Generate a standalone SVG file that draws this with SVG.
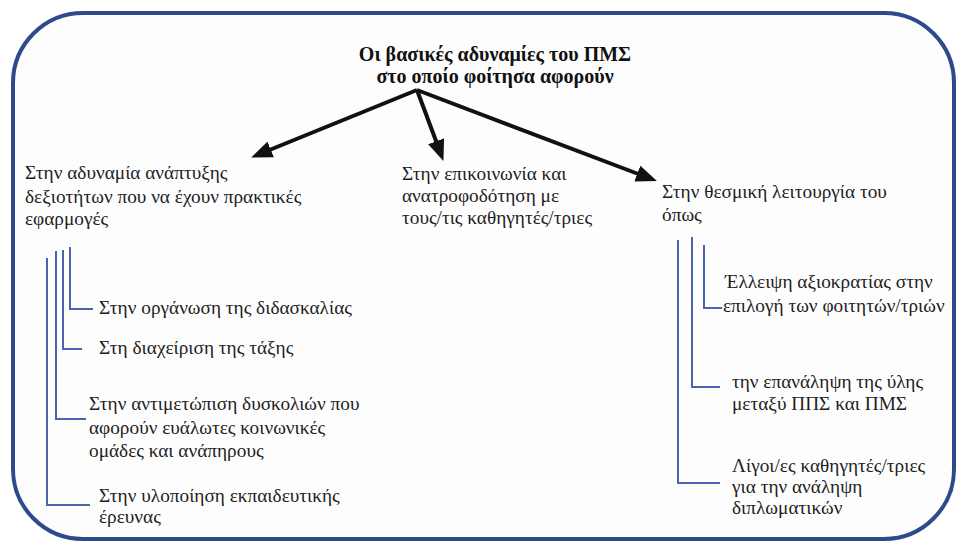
<svg xmlns="http://www.w3.org/2000/svg" width="958" height="543" viewBox="0 0 958 543">
<defs>
<style>
.t{font-family:'Liberation Serif','Times New Roman','DejaVu Serif',serif;font-size:19.3px;fill:#1e1e1e}
.h{font-family:'Liberation Serif','Times New Roman','DejaVu Serif',serif;font-size:20px;font-weight:bold;fill:#111}
.arr{stroke:#111;stroke-width:4;fill:none}
.br{stroke:#4a64b2;stroke-width:2;fill:none}
</style>
<marker id="ah" markerUnits="userSpaceOnUse" markerWidth="21" markerHeight="17" refX="4" refY="8.5" orient="auto" viewBox="0 0 21 17">
<path d="M0,0 L21,8.5 L0,17 z" fill="#111"/>
</marker>
</defs>
<rect width="958" height="543" fill="#ffffff"/>
<rect id="frame" x="13" y="13" width="941" height="526" rx="70" ry="70" fill="#fdfdfd" stroke="#2c4a8c" stroke-width="4"/>

<g id="title">
<text class="h" x="495" y="61" text-anchor="middle">Οι βασικές αδυναμίες του ΠΜΣ</text>
<text class="h" x="495" y="83" text-anchor="middle">στο οποίο φοίτησα αφορούν</text>
</g>

<g id="connectors">
<line class="arr" x1="417" y1="90" x2="267" y2="151" marker-end="url(#ah)"/>
<line class="arr" x1="417" y1="90" x2="437.5" y2="145" marker-end="url(#ah)"/>
<line class="arr" x1="417" y1="90" x2="641" y2="175" marker-end="url(#ah)"/>
<polyline class="br" points="70,247 70,309 93,309"/>
<polyline class="br" points="63,250 63,349 82,349"/>
<polyline class="br" points="56,251 56,419 86,419"/>
<polyline class="br" points="47,258 47,505 90,505"/>
<polyline class="br" points="704,245 704,308 722,308"/>
<polyline class="br" points="692,237 692,387 720,387"/>
<polyline class="br" points="678,240 678,483 720,483"/>
</g>

<g id="n-left">
<text class="t" x="25" y="179">Στην αδυναμία ανάπτυξης</text>
<text class="t" x="25" y="203">δεξιοτήτων που να έχουν πρακτικές</text>
<text class="t" x="25" y="225">εφαρμογές</text>
</g>
<g id="n-middle">
<text class="t" x="402" y="180">Στην επικοινωνία και</text>
<text class="t" x="402" y="202">ανατροφοδότηση με</text>
<text class="t" x="402" y="224">τους/τις καθηγητές/τριες</text>
</g>
<g id="n-right">
<text class="t" x="662" y="198">Στην θεσμική λειτουργία του</text>
<text class="t" x="662" y="221">όπως</text>
</g>

<g id="n-l1"><text class="t" x="99" y="314">Στην οργάνωση της διδασκαλίας</text></g>
<g id="n-l2"><text class="t" x="99" y="354">Στη διαχείριση της τάξης</text></g>
<g id="n-l3">
<text class="t" x="89" y="410">Στην αντιμετώπιση δυσκολιών που</text>
<text class="t" x="89" y="434">αφορούν ευάλωτες κοινωνικές</text>
<text class="t" x="89" y="457">ομάδες και ανάπηρους</text>
</g>
<g id="n-l4">
<text class="t" x="99" y="502">Στην υλοποίηση εκπαιδευτικής</text>
<text class="t" x="99" y="523">έρευνας</text>
</g>

<g id="n-r1">
<text class="t" x="725" y="288">Έλλειψη αξιοκρατίας στην</text>
<text class="t" x="723" y="312">επιλογή των φοιτητών/τριών</text>
</g>
<g id="n-r2">
<text class="t" x="732" y="388">την επανάληψη της ύλης</text>
<text class="t" x="732" y="410">μεταξύ ΠΠΣ και ΠΜΣ</text>
</g>
<g id="n-r3">
<text class="t" x="732" y="472">Λίγοι/ες καθηγητές/τριες</text>
<text class="t" x="732" y="493">για την ανάληψη</text>
<text class="t" x="732" y="514">διπλωματικών</text>
</g>
</svg>
